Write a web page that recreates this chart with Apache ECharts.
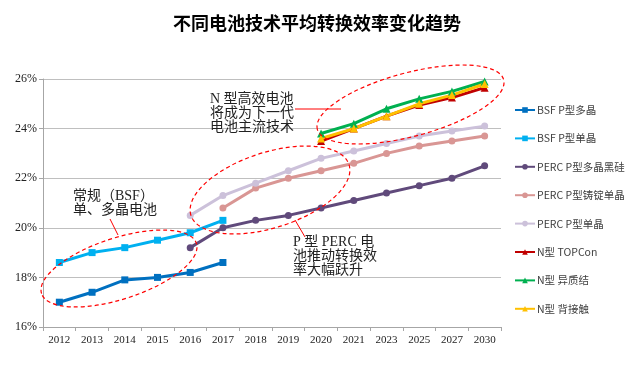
<!DOCTYPE html>
<html>
<head>
<meta charset="utf-8">
<script src="https://cdn.jsdelivr.net/npm/echarts@6/dist/echarts.min.js"></script>
<style>html,body{margin:0;padding:0;background:#fff;}#c{width:634px;height:366px;}</style>
</head>
<body>
<div id="c"></div>
<script>
var years = ['2012','2013','2014','2015','2016','2017','2018','2019','2020','2021','2023','2025','2027','2030'];
var bsfMulti   = [17.0, 17.4, 17.9, 18.0, 18.2, 18.6, null, null, null, null, null, null, null, null];
var bsfMono    = [18.6, 19.0, 19.2, 19.5, 19.8, 20.3, null, null, null, null, null, null, null, null];
var percMulti  = [null, null, null, null, 19.2, 20.0, 20.3, 20.5, 20.8, 21.1, 21.4, 21.7, 22.0, 22.5];
var percIngot  = [null, null, null, null, null, 20.8, 21.6, 22.0, 22.3, 22.6, 23.0, 23.3, 23.5, 23.7];
var percMono   = [null, null, null, null, 20.5, 21.3, 21.8, 22.3, 22.8, 23.1, 23.4, 23.7, 23.9, 24.1];
var topcon     = [null, null, null, null, null, null, null, null, 23.5, 24.0, 24.5, 24.95, 25.25, 25.65];
var hjt        = [null, null, null, null, null, null, null, null, 23.8, 24.2, 24.8, 25.2, 25.5, 25.9];
var ibc        = [null, null, null, null, null, null, null, null, 23.6, 24.0, 24.5, 25.0, 25.35, 25.8];
var names = ['BSF P型多晶','BSF P型单晶','PERC P型多晶黑硅','PERC P型铸锭单晶','PERC P型单晶','N型 TOPCon','N型 异质结','N型 背接触'];
var yTicks = {min: 16, max: 26, interval: 2};

var colors = ['#0070C0','#00B0F0','#604A7B','#D99694','#CCC1DA','#C00000','#00B050','#FFC000'];
var symbols = ['rect','rect','circle','circle','circle','triangle','triangle','triangle'];
var sizes = [7,7,7,7,7,8,8,8];
var datas = [bsfMulti,bsfMono,percMulti,percIngot,percMono,topcon,hjt,ibc];

var series = datas.map(function(d,i){
  return {
    name: names[i], type: 'line', data: d,
    symbol: symbols[i], symbolSize: sizes[i],
    lineStyle: {width: 3, color: colors[i]},
    itemStyle: {color: colors[i]},
    connectNulls: false,
    animation: false
  };
});

var redDash = {fill: 'none', stroke: '#FF0000', lineWidth: 1.2, lineDash: [4,3]};
var annFont = '14px "Liberation Serif", "Noto Sans CJK SC", serif';
function txt(s, x, y){
  return {type:'text', x:x, y:y, z:100, style:{text:s, font:annFont, fill:'#222', textAlign:'left', textVerticalAlign:'middle', verticalAlign:'middle'}};
}

var chart = echarts.init(document.getElementById('c'), null, {renderer:'canvas'});
chart.setOption({
  animation: false,
  backgroundColor: '#fff',
  title: {
    text: '不同电池技术平均转换效率变化趋势',
    left: 'center', top: 9,
    textStyle: {fontFamily: '"Noto Sans CJK SC", sans-serif', fontSize: 18, fontWeight: 'bold', color: '#000'}
  },
  grid: {left: 43, right: 133, top: 79, bottom: 39, containLabel: false},
  legend: {
    orient: 'vertical', left: 514, top: 103, padding: 0,
    itemWidth: 20, itemHeight: 7, itemGap: 14.4,
    textStyle: {fontFamily: '"Noto Sans CJK SC", sans-serif', fontSize: 10.5, color: '#404040', lineHeight: 14, padding: [0,0,0,-3]},
    data: names
  },
  xAxis: {
    type: 'category', data: years, boundaryGap: true,
    axisLine: {lineStyle: {color: '#A6A6A6'}},
    axisTick: {show: true, length: 4, lineStyle: {color: '#A6A6A6'}},
    axisLabel: {fontFamily: '"Liberation Serif", serif', fontSize: 11, color: '#222', margin: 8}
  },
  yAxis: {
    type: 'value', min: yTicks.min, max: yTicks.max, interval: yTicks.interval,
    axisLine: {show: true, lineStyle: {color: '#A6A6A6'}},
    axisTick: {show: true, length: 4, lineStyle: {color: '#A6A6A6'}},
    splitLine: {lineStyle: {color: '#BFBFBF'}},
    axisLabel: {formatter: '{value}%', fontFamily: '"Liberation Serif", serif', fontSize: 12, color: '#222', margin: 6}
  },
  series: series,
  graphic: [
    {type:'ellipse', x:119, y:268.5, rotation: 18*Math.PI/180, shape:{cx:0, cy:0, rx:81.4, ry:30.6}, style: redDash, z:90},
    {type:'ellipse', x:270, y:190, rotation: 17.8*Math.PI/180, shape:{cx:0, cy:0, rx:83, ry:37.7}, style: redDash, z:90},
    {type:'ellipse', x:410.5, y:104.5, rotation: 14.9*Math.PI/180, shape:{cx:0, cy:0, rx:96.4, ry:31.8}, style: redDash, z:90},
    {type:'line', shape:{x1:110, y1:219, x2:118, y2:235}, style:{stroke:'#FF0000', lineWidth:1}, z:90},
    {type:'line', shape:{x1:295, y1:109, x2:341, y2:109}, style:{stroke:'#FF0000', lineWidth:1}, z:90},
    {type:'line', shape:{x1:295, y1:220, x2:305, y2:237}, style:{stroke:'#FF0000', lineWidth:1}, z:90},
    txt('常规（BSF）', 73, 196),
    txt('单、多晶电池', 73, 210),
    txt('N 型高效电池', 210, 99),
    txt('将成为下一代', 210, 113),
    txt('电池主流技术', 210, 127),
    txt('P 型 PERC 电', 293, 242),
    txt('池推动转换效', 293, 256),
    txt('率大幅跃升', 293, 270)
  ]
});
</script>
</body>
</html>
